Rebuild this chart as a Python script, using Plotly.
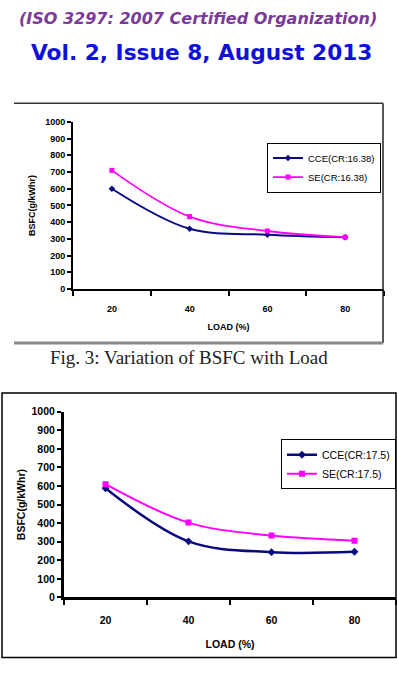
import plotly.graph_objects as go

W, H = 397, 685

loads = ["20", "40", "60", "80"]
y_ticks = [0, 100, 200, 300, 400, 500, 600, 700, 800, 900, 1000]

# Fig. 3 (CR 16.38)
cce_1638 = [600, 360, 325, 310]
se_1638 = [710, 433, 347, 310]
# second chart (CR 17.5)
cce_175 = [588, 302, 244, 246]
se_175 = [610, 403, 333, 306]

NAVY = "#0a0a80"
MAG = "#ff00ff"


def px(x):
    return x / W


def py(y):
    return 1 - y / H


fig = go.Figure()

fig.add_trace(go.Scatter(x=loads, y=cce_1638, name="CCE(CR:16.38)", mode="lines+markers",
                         line=dict(color=NAVY, width=2, shape="spline"),
                         marker=dict(symbol="diamond", size=5, color=NAVY),
                         xaxis="x", yaxis="y", legend="legend"))
fig.add_trace(go.Scatter(x=loads, y=se_1638, name="SE(CR:16.38)", mode="lines+markers",
                         line=dict(color=MAG, width=1.8, shape="spline"),
                         marker=dict(symbol="square", size=5, color=MAG),
                         xaxis="x", yaxis="y", legend="legend"))

fig.add_trace(go.Scatter(x=loads, y=cce_175, name="CCE(CR:17.5)", mode="lines+markers",
                         line=dict(color=NAVY, width=2.5, shape="spline"),
                         marker=dict(symbol="diamond", size=6, color=NAVY),
                         xaxis="x2", yaxis="y2", legend="legend2"))
fig.add_trace(go.Scatter(x=loads, y=se_175, name="SE(CR:17.5)", mode="lines+markers",
                         line=dict(color=MAG, width=2, shape="spline"),
                         marker=dict(symbol="square", size=6, color=MAG),
                         xaxis="x2", yaxis="y2", legend="legend2"))

FONT = "Liberation Sans, Arial, sans-serif"


def xax(domain, anchor, fs, lw, lab_off, title_off):
    return dict(domain=domain, anchor=anchor, type="category", range=[-0.5, 3.5],
                tickson="boundaries", ticks="outside", ticklen=5, tickwidth=1.5,
                tickcolor="black", showline=True, linecolor="black", linewidth=lw,
                showgrid=False, zeroline=False, fixedrange=True,
                ticklabelstandoff=lab_off,
                tickfont=dict(family=FONT, size=fs, color="black", weight="bold"),
                title=dict(text="<b>LOAD (%)</b>", font=dict(family=FONT, size=fs, color="black"),
                           standoff=title_off))


def yax(domain, anchor, fs, lw, title_off):
    return dict(domain=domain, anchor=anchor, range=[0, 1000], tickvals=y_ticks,
                ticks="outside", ticklen=4, tickwidth=1.5, tickcolor="black",
                showline=True, linecolor="black", linewidth=lw, showgrid=False,
                zeroline=False, fixedrange=True,
                tickfont=dict(family=FONT, size=fs, color="black", weight="bold"),
                title=dict(text="<b>BSFC(g/kWhr)</b>", font=dict(family=FONT, size=fs, color="black"),
                           standoff=title_off))


fig.update_layout(
    width=W, height=H, autosize=False, margin=dict(l=0, r=0, t=0, b=0, pad=0),
    paper_bgcolor="white", plot_bgcolor="white", showlegend=True,
    xaxis=xax([px(73), px(384)], "y", 9, 2, 10, 11),
    yaxis=yax([py(288), py(118)], "x", 9, 2, 8),
    xaxis2=xax([px(64), px(396)], "y2", 10.5, 3, 11, 16),
    yaxis2=yax([py(602), py(413)], "x2", 10.5, 3, 4),
    legend=dict(x=px(381), y=py(139), xanchor="right", yanchor="top",
                bgcolor="white", bordercolor="black", borderwidth=1,
                font=dict(family=FONT, size=9.5, color="black"), itemwidth=30,
                tracegroupgap=0),
    legend2=dict(x=px(396), y=py(441), xanchor="right", yanchor="top",
                 bgcolor="white", bordercolor="black", borderwidth=1,
                 font=dict(family=FONT, size=10.5, color="black"), itemwidth=30,
                 tracegroupgap=0),
)

shapes = [
    dict(type="line", xref="paper", yref="paper", x0=px(14), x1=px(383), y0=py(99), y1=py(99),
         line=dict(color="#333333", width=1.5)),
    dict(type="line", xref="paper", yref="paper", x0=px(383), x1=px(383), y0=py(99), y1=py(343),
         line=dict(color="#222222", width=1.5)),
    dict(type="line", xref="paper", yref="paper", x0=px(14), x1=px(383), y0=py(343), y1=py(343),
         line=dict(color="#888888", width=3)),
    dict(type="rect", xref="paper", yref="paper", x0=px(2), x1=px(396), y0=py(663), y1=py(394),
         line=dict(color="black", width=1.5), fillcolor="rgba(0,0,0,0)"),
]
fig.update_layout(shapes=shapes)

annotations = [
    dict(text="<b><i>(ISO 3297: 2007 Certified Organization)</i></b>", x=px(198), y=py(13),
         xref="paper", yref="paper", showarrow=False, xanchor="center", yanchor="middle",
         font=dict(family="DejaVu Sans", size=16, color="#7a3a98")),
    dict(text="<b>Vol. 2, Issue 8, August 2013</b>", x=px(201), y=py(47),
         xref="paper", yref="paper", showarrow=False, xanchor="center", yanchor="middle",
         font=dict(family="DejaVu Sans", size=21.7, color="#1010dd")),
    dict(text="Fig. 3: Variation of BSFC with Load", x=px(189), y=py(358),
         xref="paper", yref="paper", showarrow=False, xanchor="center", yanchor="middle",
         font=dict(family="Liberation Serif, Times New Roman, serif", size=19, color="#222222")),
]
fig.update_layout(annotations=annotations)

fig.write_html("out.html", config={"responsive": False})
